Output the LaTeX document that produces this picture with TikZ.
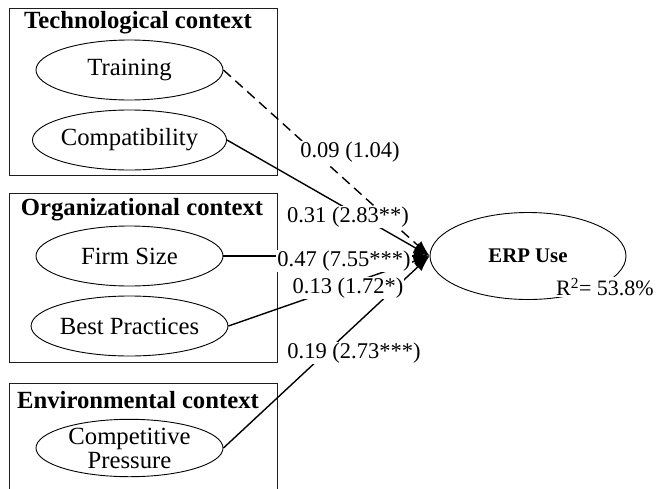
\documentclass[tikz,border=0pt]{standalone}
\usepackage{fontspec}
\setmainfont{Liberation Serif}
\usetikzlibrary{arrows.meta,positioning,shapes.geometric}
\definecolor{inkblack}{RGB}{0,0,0}
\definecolor{framegray}{RGB}{30,30,30}

\tikzset{
  ctxframe/.style={draw=framegray, line width=1pt},
  ctxtitle/.style={font=\fontsize{24.7}{28}\selectfont\bfseries, inner sep=0pt},
  factor/.style={ellipse, draw=inkblack, line width=0.9pt, minimum width=187pt, minimum height=60pt,
    inner sep=0pt, align=center, font=\fontsize{24.7}{24}\selectfont},
  coef/.style={fill=white, inner sep=1pt, font=\fontsize{22.5}{26}\selectfont},
  effect/.style={draw=inkblack, line width=1.4pt, -{Latex[length=16pt,width=11pt]}},
}

\begin{document}
\begin{tikzpicture}[x=1pt,y=-1pt]
  \useasboundingbox (0,0) rectangle (656,488);

  % context frames
  \draw[ctxframe] (9,8) rectangle (277,175);
  \draw[ctxframe] (9,193) rectangle (277,362);
  \draw[ctxframe] (9,500) -- (9,383) -- (277,383) -- (277,500);

  \node[ctxtitle] (techtitle) at (138,23) {Technological context};
  \node[factor] (train) at (129.5,70) {Training};
  \node[factor] (compat) at (129.5,140) {Compatibility};

  \node[ctxtitle] (orgtitle) at (142,210) {Organizational context};
  \node[factor] (firmsize) at (129.5,256) {Firm Size};
  \node[factor] (bestprac) at (129.5,326) {Best Practices};

  \node[ctxtitle] (envtitle) at (138,400) {Environmental context};
  \node[factor, minimum height=57pt] (comppress) at (129.5,448) {Competitive\\Pressure};

  % outcome
  \node[ellipse, draw=inkblack, line width=0.9pt, minimum width=196pt, minimum height=87pt,
    font=\fontsize{20.8}{24}\selectfont\bfseries] (erp) at (528,256) {ERP Use};
  \node[coef, font=\fontsize{22}{26}\selectfont] (rsq) at (605,287) {R\textsuperscript{2}= 53.8\%};

  % paths
  \draw[effect, dash pattern=on 10pt off 6pt] (train.east) -- (erp.west);
  \draw[effect] (compat.east) -- (erp.west);
  \draw[effect] (firmsize.east) -- (erp.west);
  \draw[effect] (bestprac.east) -- (erp.west);
  \draw[effect] (comppress.east) -- (erp.west);

  \node[coef] (ctrain) at (350,152) {0.09 (1.04)};
  \node[coef] (ccompat) at (348,217) {0.31 (2.83**)};
  \node[coef] (csize) at (344,261) {0.47 (7.55***)};
  \node[coef] (cbest) at (348,288) {0.13 (1.72*)};
  \node[coef] (ccomp) at (354,353) {0.19 (2.73***)};
\end{tikzpicture}
\end{document}
